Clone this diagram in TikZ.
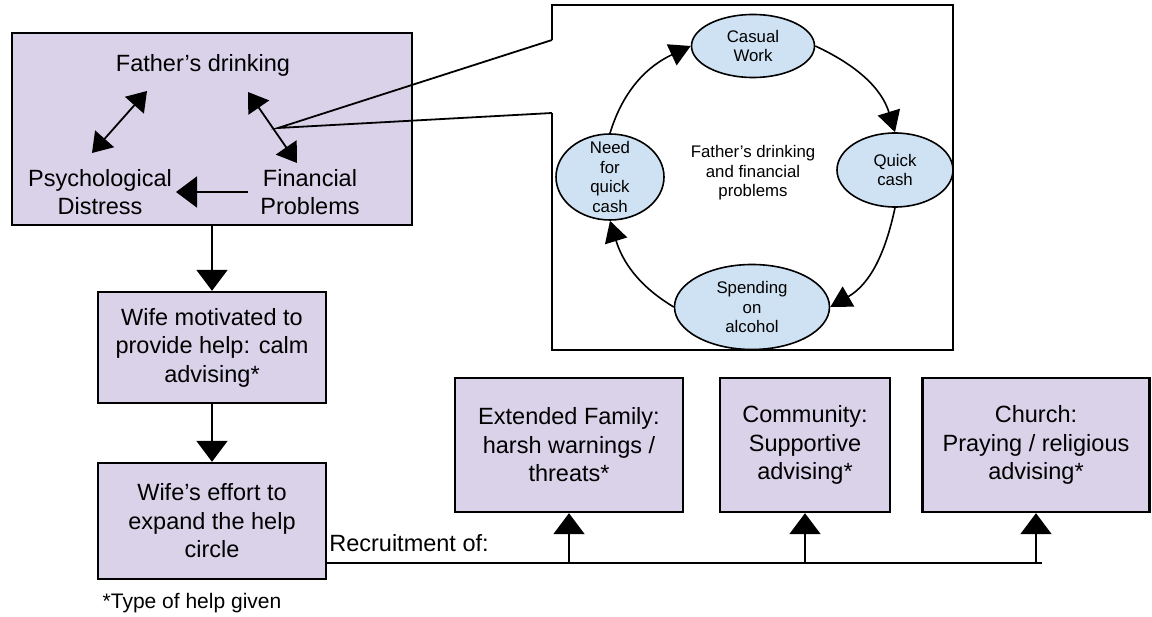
\documentclass[tikz,border=0pt]{standalone}
\usepackage{fontspec}
\setmainfont{Liberation Sans}
\usetikzlibrary{arrows.meta,shapes.geometric}
\definecolor{lilac}{HTML}{D9D2E9}
\definecolor{paleblue}{HTML}{CFE2F3}
\newcommand{\bigfont}{\fontsize{23.5}{28.5}\selectfont}
\newcommand{\smallfont}{\fontsize{16.8}{19.5}\selectfont}
\begin{document}
\begin{tikzpicture}[x=1pt,y=-1pt,
  box/.style={draw, line width=2.4pt, fill=lilac, align=center, font=\bigfont, inner sep=0pt},
  txt/.style={align=center, font=\bigfont, inner sep=1pt},
  arr/.style={line width=2pt, -{Triangle[length=21pt,width=31pt]}},
  dbl/.style={line width=1.8pt, {Triangle[length=19pt,width=25pt]}-{Triangle[length=19pt,width=25pt]}},
  carr/.style={line width=1.6pt, -{Triangle[length=21pt,width=23pt]}},
  bubble/.style={ellipse, draw, line width=1.6pt, fill=paleblue},
  inside/.style={align=center, font=\smallfont, inner sep=0pt}]
\useasboundingbox (0,0) rectangle (1152,617);
% Problem box
\node[box, minimum width=400pt, minimum height=192pt] (core) at (212,129) {};
\node[txt] (drink) at (203,65) {Father’s drinking};
\node[txt] (distress) at (100,192) {Psychological\\Distress};
\node[txt] (money) at (310,192) {Financial\\Problems};
\coordinate (distressTip) at (92,153);
\coordinate (drinkTipL) at (147,91);
\coordinate (drinkTipR) at (248,92);
\coordinate (moneyTip) at (297,163);
\draw[dbl] (distressTip) -- (drinkTipL);
\draw[dbl] (drinkTipR) -- (moneyTip);
\draw[arr, shorten <=11pt, shorten >=3pt] (money.west) -- (distress.east);
% Callout with the cycle
\coordinate (hub) at (278,128);
\coordinate (gapT) at (552,40);
\coordinate (gapB) at (552,113);
\draw[line width=2.8pt] (gapT) -- (552,5) -- (953,5) -- (953,350) -- (552,350) -- (gapB);
\draw[line width=1.8pt] (gapT) -- (hub) -- (gapB);
\node[inside] (centre) at (753,173) {Father’s drinking\\and financial\\problems};
\node[bubble, minimum width=123pt, minimum height=63pt, label={[inside]center:Casual\\Work}] (casual) at (753,46) {};
\node[bubble, minimum width=116pt, minimum height=74pt, label={[inside]center:Quick\\cash}] (quick) at (895,170) {};
\node[bubble, minimum width=155pt, minimum height=85pt, label={[inside]center:Spending\\on\\alcohol}] (spend) at (752,307) {};
\node[bubble, minimum width=108pt, minimum height=86pt, label={[inside]center:Need\\for\\quick\\cash}] (need) at (610,177) {};
\draw[carr] (need.north) to[out=73,in=205] (casual.west);
\draw[carr] (casual.east) to[out=-25,in=107] (quick.north);
\draw[carr] (quick.south) to[out=-102,in=30] (spend.east);
\draw[carr] (spend.west) to[out=149,in=-73] (need.south);
% Wife's help
\node[box, minimum width=228pt, minimum height=111pt] (motive) at (212,347.5) {Wife motivated to\\provide help: calm\\advising*};
\node[box, minimum width=228pt, minimum height=116pt] (effort) at (212,521) {Wife’s effort to\\expand the help\\circle};
\draw[arr] (core.south) -- (motive.north);
\draw[arr] (motive.south) -- (effort.north);
\node[txt, font=\fontsize{21}{25}\selectfont] (note) at (192,603) {*Type of help given};
% Recruited helpers
\node[box, minimum width=228pt, minimum height=134pt] (family) at (569,445) {Extended Family:\\harsh warnings /\\threats*};
\node[box, minimum width=170pt, minimum height=134pt] (community) at (805,445) {Community:\\Supportive\\advising*};
\node[box, minimum width=227pt, minimum height=134pt] (church) at (1036,445) {Church:\\Praying / religious\\advising*};
\node[txt] (recruit) at (409,543) {Recruitment of:};
\coordinate (lineEnd) at (1042,563);
\draw[line width=1.8pt] ([yshift=-42pt]effort.east) -- (lineEnd);
\foreach \helper in {family,community,church}
  \draw[arr] (\helper.south |- lineEnd) -- (\helper.south);
\end{tikzpicture}
\end{document}
